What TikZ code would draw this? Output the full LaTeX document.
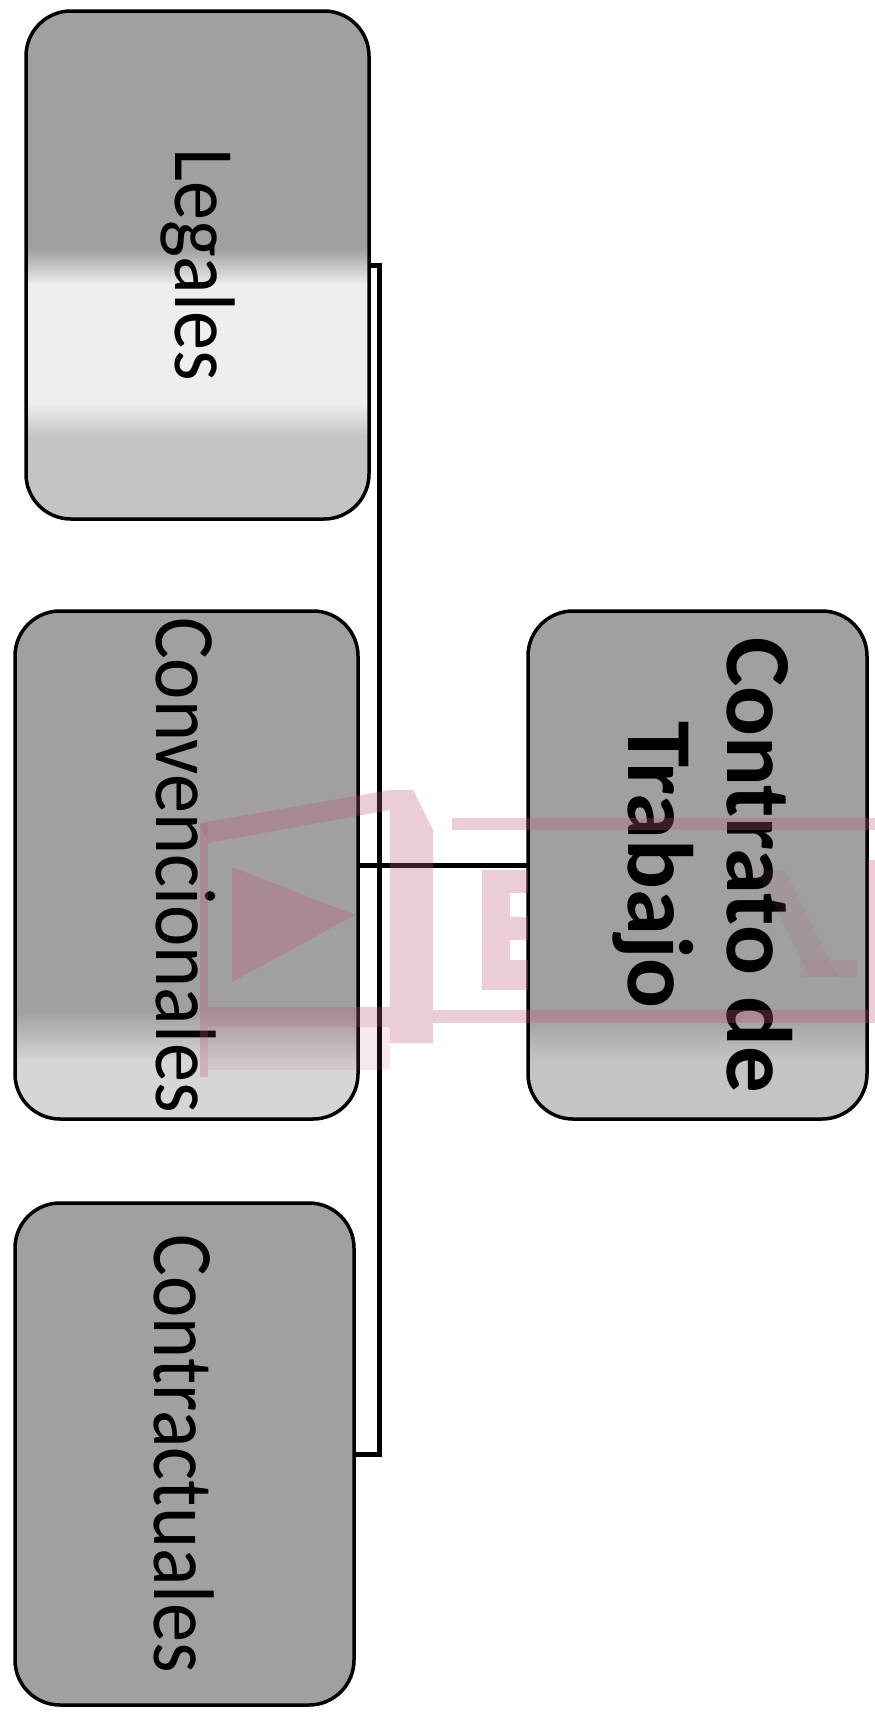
\documentclass[tikz,border=0pt]{standalone}
\usepackage{fontspec}
\setmainfont{Carlito}
\newfontfamily\boxfont[FakeStretch=0.91]{Carlito}
\newfontfamily\titlefont{Carlito}
\usetikzlibrary{calc}
\definecolor{cardgray}{RGB}{160,160,160}
\definecolor{lightpatch}{RGB}{238,238,238}
\definecolor{midpatch}{RGB}{196,196,196}
\definecolor{wmpink}{RGB}{190,90,120}
\begin{document}
\begin{tikzpicture}[x=1pt,y=-1pt,
  card/.style={draw=black, line width=3.5pt, rounded corners=45pt, fill=cardgray,
    inner sep=0pt, outer sep=0pt, align=center},
  patch/.style={sharp corners, draw=none},
  conn/.style={draw=black, line width=5pt},
  wm/.style={fill=wmpink, fill opacity=0.3, draw=none},
  wmsoft/.style={fill=wmpink, fill opacity=0.13, draw=none},
  lbl/.style={font=\boxfont\fontsize{86}{90}\selectfont},
  ttl/.style={font=\titlefont\bfseries\fontsize{93}{99}\selectfont}]
\useasboundingbox (0,0) rectangle (875,1713);
\fill[white] (0,0) rectangle (875,1713);

% boxes
\node[card, minimum width=343pt, minimum height=508pt,
  path picture={
    \coordinate (pa) at (path picture bounding box.north west);
    \coordinate (pb) at (path picture bounding box.north east);
    \shade[patch, top color=cardgray, bottom color=lightpatch] ($(pa)+(-5,238)$) rectangle ($(pb)+(5,274)$);
    \fill[patch, lightpatch] ($(pa)+(-5,273)$) rectangle ($(pb)+(5,392)$);
    \shade[patch, top color=lightpatch, bottom color=midpatch] ($(pa)+(-5,391)$) rectangle ($(pb)+(5,425)$);
    \fill[patch, midpatch] ($(pa)+(-5,424)$) rectangle ($(pb)+(5,520)$);
  }] (L) at (197.5,265) {};
\node[lbl] (Lt) at (L.center) {\rotatebox{-90}{Legales}};

\node[card, minimum width=343pt, minimum height=508pt,
  path picture={
    \coordinate (qa) at (path picture bounding box.north west);
    \coordinate (qb) at (path picture bounding box.north east);
    \shade[patch, top color=cardgray, bottom color=midpatch!70!white] ($(qa)+(-5,400)$) rectangle ($(qb)+(5,450)$);
    \fill[patch, midpatch!70!white] ($(qa)+(-5,449)$) rectangle ($(qb)+(5,520)$);
  }] (C2) at (186.5,865) {};
\node[lbl] (C2t) at (C2.center) {\rotatebox{-90}{Convencionales}};

\node[card, minimum width=339pt, minimum height=502pt] (C3) at (184.5,1454) {};
\node[lbl] (C3t) at (C3.center) {\rotatebox{-90}{Contractuales}};

\node[card, minimum width=339pt, minimum height=508pt,
  path picture={
    \coordinate (ra) at (path picture bounding box.north west);
    \coordinate (rb) at (path picture bounding box.north east);
    \shade[patch, top color=cardgray, bottom color=midpatch] ($(ra)+(-5,405)$) rectangle ($(rb)+(5,450)$);
    \fill[patch, midpatch] ($(ra)+(-5,449)$) rectangle ($(rb)+(5,520)$);
  }] (M) at (697.5,865) {};
\node[ttl] (Mt) at (M.center) {\rotatebox{-90}{\begin{tabular}{@{}c@{}}Contrato de\\Trabajo\end{tabular}}};

% connectors
\coordinate (bus) at (379,865);
\draw[conn] (L.east) -| (bus) |- (C3.east);
\draw[conn] (C2.east) -- (M.west);

% watermark
\fill[wm] (200,823) -- (390,790) -- (413,790) -- (433,830) -- (433,1043) -- (390,1043)
  -- (390,810) -- (208,843) -- cycle;
\fill[wm] (200,823) rectangle (208,1077);
\fill[wm] (208,1007) rectangle (390,1027);
\fill[wmsoft] (208,1027) rectangle (390,1070);
\fill[wm] (232,867) -- (355,915) -- (232,982) -- cycle;
\fill[wm] (452,818) rectangle (875,830);
\fill[wm] (433,1010) rectangle (875,1023);
\fill[wm] (482,870) rectangle (510,990);
\fill[wm] (510,870) rectangle (528,893);
\fill[wm] (510,917) rectangle (528,940);
\fill[wm] (510,960) rectangle (528,990);
\fill[wmsoft] (757,870) -- (785,870) -- (838,977) -- (810,977) -- cycle;
\fill[wmsoft] (800,960) rectangle (857,977);
\fill[wm] (868,860) rectangle (875,1010);
\end{tikzpicture}
\end{document}
